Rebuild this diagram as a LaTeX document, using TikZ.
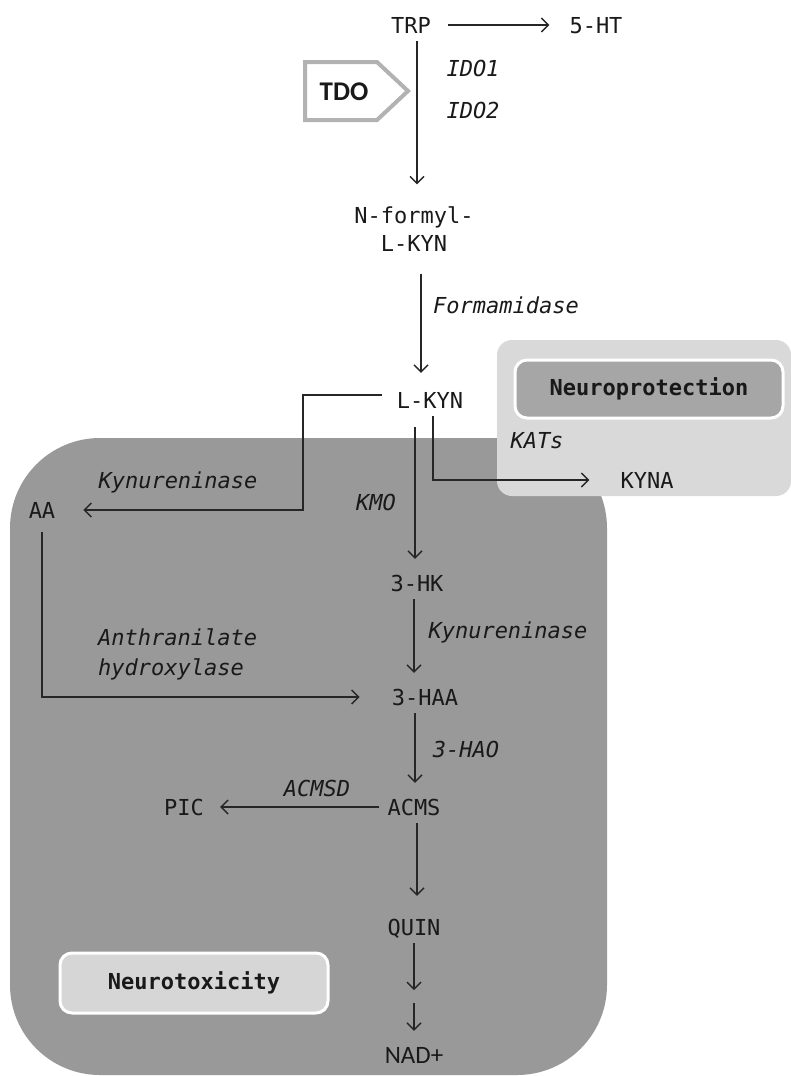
\documentclass[tikz,border=0pt]{standalone}
\usepackage{fontspec}
\setmonofont{DejaVu Sans Mono}
\newfontfamily\calib{Carlito}
\usepackage{tikz}
\usetikzlibrary{arrows.meta,positioning,calc}

\begin{document}
\begin{tikzpicture}[x=1pt,y=-1pt,
	mol/.style={font=\ttfamily\fontsize{22}{28}\selectfont,text=black!90,inner sep=8pt,text height=16pt,text depth=0pt},
	enz/.style={mol,font=\ttfamily\itshape\fontsize{22}{28}\selectfont},
	arr/.style={->,>={Straight Barb[length=7pt,width=14pt]},line width=1.4pt,draw=black!85,shorten >=8pt},
	tag/.style={draw=white,line width=3pt,rounded corners=12pt,minimum width=268pt,text=black!90,font=\ttfamily\bfseries\fontsize{22}{28}\selectfont}]
	
	\useasboundingbox (0,0) rectangle (791,1076);
	
	% zones
	\fill[black!40,rounded corners=90pt] (10,438) rectangle (607,1075);
	\fill[black!15,rounded corners=15pt] (497,340) rectangle (791,496);
	\node[tag,fill=black!35,minimum height=58pt] (protect) at (649,389) {Neuroprotection};
	\node[tag,fill=black!16,minimum height=60pt] (toxic) at (194,983) {Neurotoxicity};
	
	% TDO
	\draw[black!30,line width=4pt,fill=white] (305,62) -- (377,62) -- (408,91) -- (377,120) -- (305,120) -- cycle;
	\node[font=\calib\bfseries\fontsize{27}{30}\selectfont,text=black!90] (tdo) at (344,92) {TDO};
	
	% metabolites
	\node[mol] (trp) at (411,25) {TRP};
	\node[mol] (ht) at (596,25) {5-HT};
	\node[font=\ttfamily\fontsize{22}{28}\selectfont,text=black!90,align=center,inner sep=8pt] (nfk) at (414,229) {N-formyl-\\L-KYN};
	\node[mol] (lkyn) at (430,400) {L-KYN};
	\node[mol] (kyna) at (647,480) {KYNA};
	\node[mol] (aa) at (42,510) {AA};
	\node[mol] (hk) at (417,583) {3-HK};
	\node[mol] (haa) at (425,697) {3-HAA};
	\node[mol] (acms) at (414,807) {ACMS};
	\node[mol] (pic) at (184,807) {PIC};
	\node[mol] (quin) at (414,927) {QUIN};
	\node[mol,font=\calib\fontsize{25}{28}\selectfont] (nad) at (414,1055) {NAD+};
	
	% enzymes
	\node[enz] (ido1) at (473,68) {IDO1};
	\node[enz] (ido2) at (473,110) {IDO2};
	\node[enz] (forma) at (506,305) {Formamidase};
	\node[enz] (kats) at (537,440) {KATs};
	\node[enz] (kynaa) at (178,480) {Kynureninase};
	\node[enz] (kmo) at (376,502) {KMO};
	\node[enz] (kynhk) at (508,630) {Kynureninase};
	\node[enz,text height=,align=left,anchor=west,font=\ttfamily\itshape\fontsize{22}{30}\selectfont] (anth) at (90,652) {Anthranilate\\hydroxylase};
	\node[enz] (hao) at (466,749) {3-HAO};
	\node[enz] (acmsd) at (317,788) {ACMSD};
	
	% pathway
	\draw[arr,shorten <=9pt,shorten >=12pt] (trp.east) -- (ht.west);
	\draw[arr,shorten >=14pt] ([xshift=6pt]trp.south) -- ([xshift=6pt]trp.south |- nfk.north);
	\draw[arr,shorten <=14pt,shorten >=11pt] ([xshift=7pt]nfk.south) -- ([xshift=7pt]nfk.south |- lkyn.north);
	
	\coordinate (bend) at (303,510);
	\draw[arr,shorten <=7pt,shorten >=20pt] ([yshift=5pt]lkyn.west) -- ([yshift=5pt]lkyn.west -| bend) -- (bend) -- (aa.east);
	\draw[arr,shorten >=23pt] ([xshift=3pt]lkyn.south) |- (kyna.west);
	\draw[arr,shorten <=11pt] ([xshift=-15pt]lkyn.south) -- ([xshift=-15pt]lkyn.south |- hk.north);
	\draw[arr] ([xshift=-3pt]hk.south) -- ([xshift=-3pt]hk.south |- haa.north);
	\draw[arr,shorten <=6pt,shorten >=24pt] (aa.south) |- (haa.west);
	\draw[arr] ([xshift=-10pt]haa.south) -- ([xshift=-10pt]haa.south |- acms.north);
	\draw[arr] (acms.west) -- (pic.east);
	\draw[arr,shorten >=15pt] ([xshift=3pt]acms.south) -- ([xshift=3pt]acms.south |- quin.north);
	
	\coordinate (split) at (414,998);
	\draw[arr] (quin.south) -- (split);
	\draw[arr,shorten <=5pt] (split) -- (nad.north);
\end{tikzpicture}
\end{document}
